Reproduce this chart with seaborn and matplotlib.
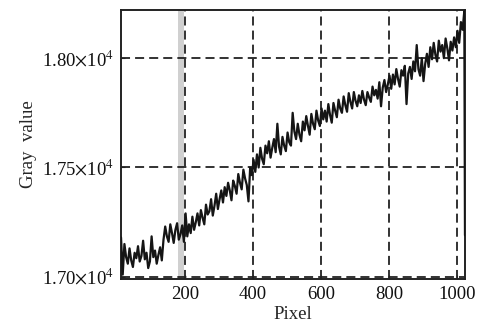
import numpy as np
import pandas as pd
import seaborn as sns
import matplotlib
matplotlib.use("Agg")
import matplotlib.pyplot as plt

# =========================
# DATA (one value per 5 pixels)
# =========================
gray_values = [
    # 12 .. 107
    17180, 17010, 17150, 17090, 17060, 17130, 17075, 17045, 17110, 17085,
    17140, 17070, 17095, 17165, 17080, 17110, 17040, 17070, 17185, 17090,
    # 112 .. 207
    17120, 17060, 17100, 17135, 17075, 17170, 17230, 17185, 17160, 17240,
    17200, 17155, 17215, 17245, 17170, 17195, 17235, 17160, 17290, 17185,
    # 212 .. 307
    17240, 17200, 17275, 17215, 17250, 17290, 17235, 17305, 17270, 17240,
    17330, 17285, 17300, 17355, 17280, 17325, 17380, 17310, 17355, 17395,
    # 312 .. 407
    17340, 17410, 17370, 17430, 17395, 17350, 17440, 17415, 17380, 17470,
    17430, 17400, 17490, 17450, 17420, 17345, 17500, 17465, 17535, 17480,
    # 412 .. 507
    17560, 17500, 17590, 17540, 17515, 17600, 17565, 17620, 17545, 17590,
    17630, 17570, 17700, 17595, 17560, 17640, 17600, 17575, 17660, 17615,
    # 512 .. 607
    17600, 17750, 17665, 17630, 17700, 17650, 17620, 17710, 17670, 17735,
    17690, 17650, 17745, 17700, 17675, 17760, 17715, 17690, 17770, 17720,
    # 612 .. 707
    17760, 17710, 17790, 17740, 17705, 17795, 17760, 17730, 17810, 17770,
    17750, 17825, 17785, 17755, 17840, 17800, 17770, 17845, 17805, 17780,
    # 712 .. 807
    17830, 17795, 17850, 17810, 17785, 17845, 17820, 17800, 17870, 17830,
    17855, 17815, 17890, 17780, 17865, 17900, 17845, 17880, 17920, 17860,
    # 812 .. 907
    17925, 17880, 17950, 17905, 17870, 17945, 17920, 17965, 17790, 17930,
    17960, 17905, 17985, 17940, 18060, 17950, 17920, 18000, 17895, 17975,
    # 912 .. 1007
    18020, 17960, 18050, 17995, 18070, 18015, 17985, 18080, 18030, 18060,
    18000, 18090, 18045, 17990, 18075, 18035, 18095, 18050, 18125, 18070,
    # 1012 .. 1022
    18165, 18130, 18215,
]
last_value = 17190          # the profile drops at the very last pixel

pixels = list(range(12, 1023, 5)) + [1024]
values = gray_values + [last_value]

x_ticks = [200, 400, 600, 800, 1000]
y_ticks = [17000, 17500, 18000]
y_tick_labels = [r"1.70$\times$10$^{4}$", r"1.75$\times$10$^{4}$", r"1.80$\times$10$^{4}$"]

df = pd.DataFrame({"Pixel": pixels, "Gray value": values})

# =========================
# PLOT
# =========================
sns.set_style("ticks")
plt.rcParams["font.family"] = ["Liberation Serif", "DejaVu Serif"]
plt.rcParams["mathtext.fontset"] = "stix"

fig = plt.figure(figsize=(4.81, 3.29), dpi=100)
ax = fig.add_axes([0.2516, 0.152, 0.7151, 0.8174])

ax.axvspan(180, 196, color="#d0d0d0", lw=0, zorder=0)
sns.lineplot(data=df, x="Pixel", y="Gray value", ax=ax, color="#151515",
             lw=1.6, zorder=3)

ax.set_xlim(12, 1024)
ax.set_ylim(16990, 18220)
ax.set_xticks(x_ticks)
ax.set_yticks(y_ticks)
ax.set_yticklabels(y_tick_labels)
ax.grid(True, color="#222222", ls=(0, (5, 2.8)), lw=1.3)
ax.tick_params(direction="in", length=3, labelsize=13.5, colors="#222222",
               labelcolor="#111111", pad=5)
for s in ax.spines.values():
    s.set_linewidth(1.4)
    s.set_color("#222222")

ax.set_xlabel("Pixel", fontsize=13.5, labelpad=2)
ax.set_ylabel("Gray  value", fontsize=13.5, labelpad=3.5)

fig.savefig("out.png", dpi=100)
